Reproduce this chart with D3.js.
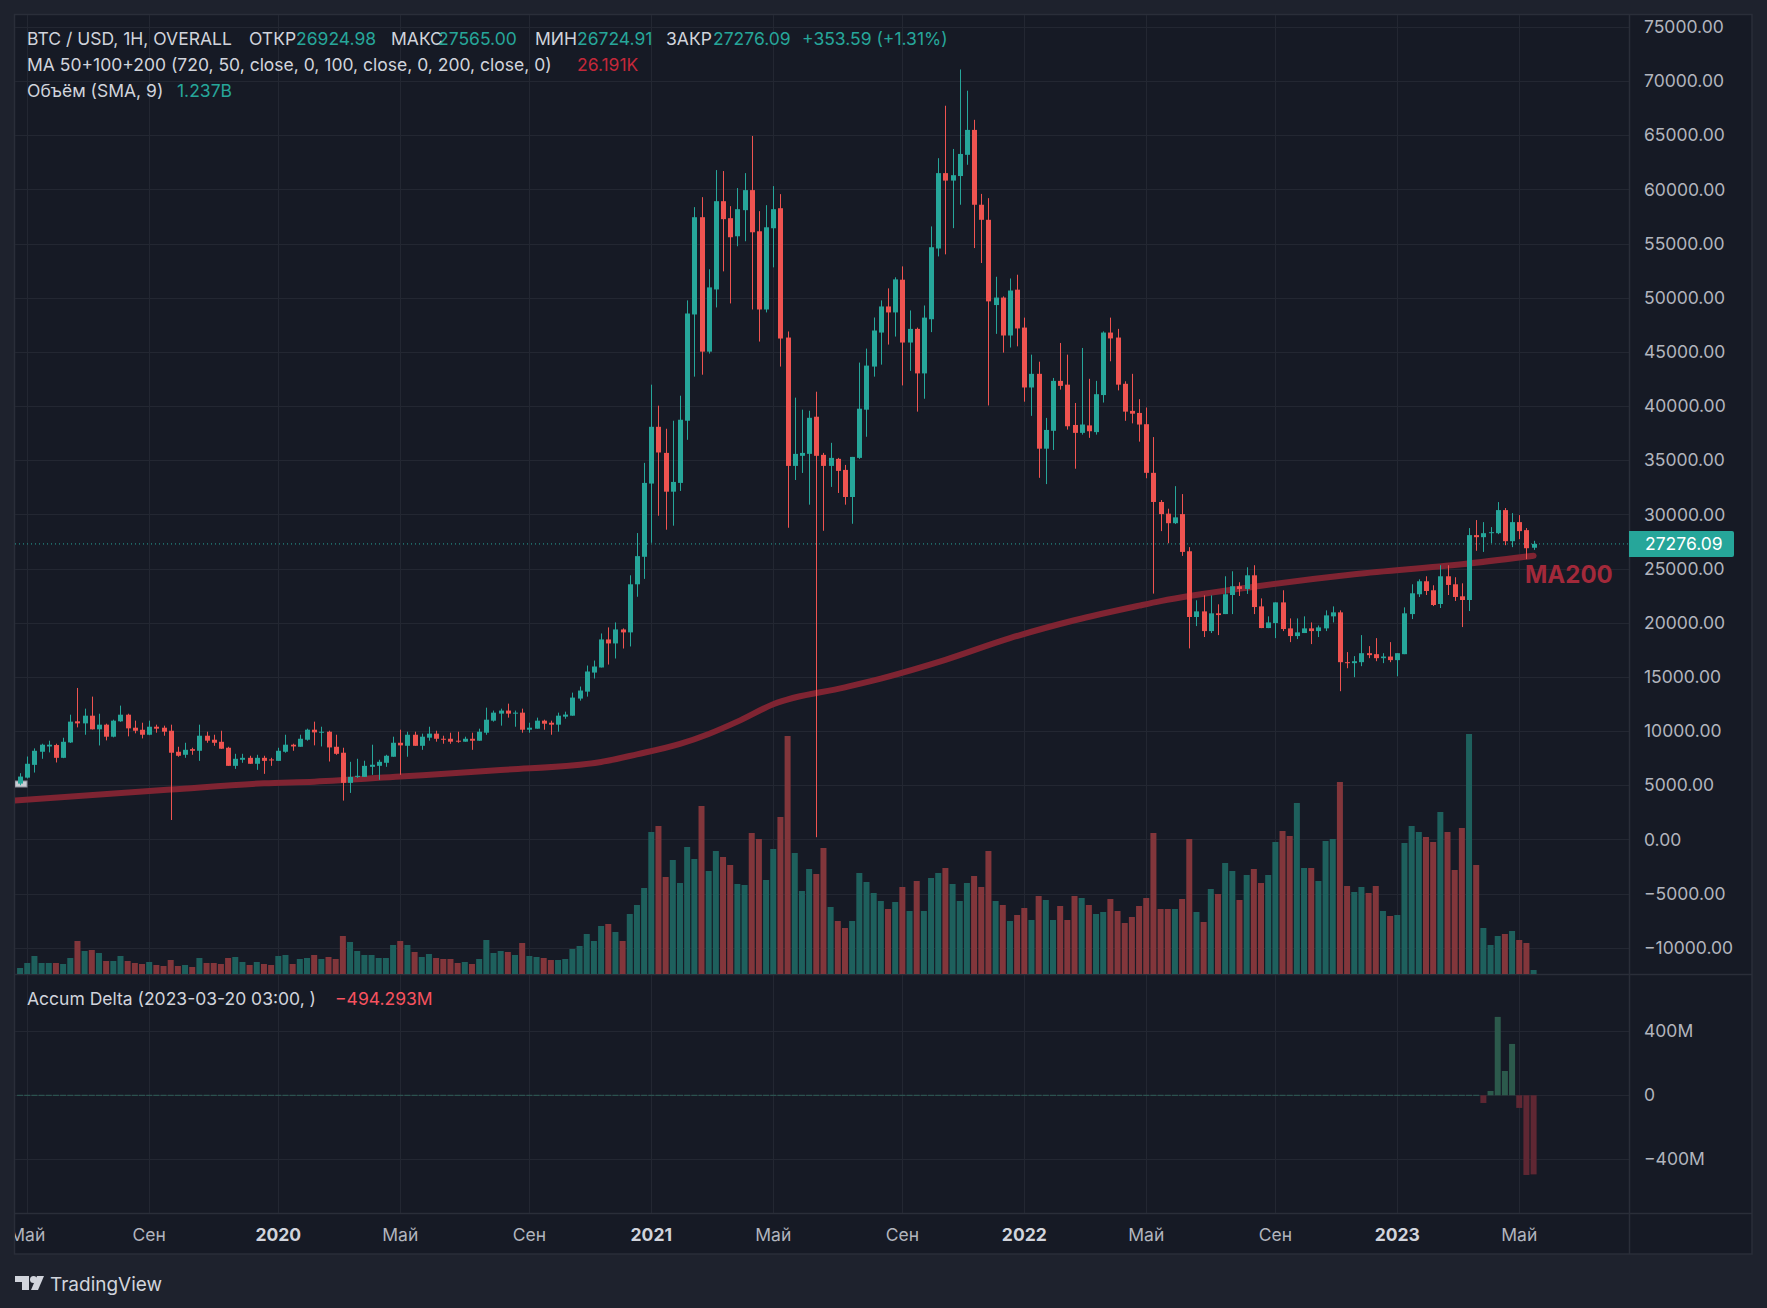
<!DOCTYPE html>
<html>
<head>
<meta charset="utf-8">
<script src="https://cdn.jsdelivr.net/npm/d3@7"></script>
<style>
  body { margin: 0; background: #1e222d; }
  svg { display: block; font-family: Inter, "Noto Sans", sans-serif; }
</style>
</head>
<body>
<svg id="chart" width="1767" height="1308"></svg>
<script>
// weekly bars, first bar on this Monday
const START = "2019-04-29";

const opens = [
  5150,5700,6880,8090,8580,8710,7530,8950,10900,10710,11420,10160,10590,9480,10900,11510,10310,10120,9660,10400,
  10310,10030,8090,7810,8330,8180,9570,9200,9010,8460,6790,7350,7530,6980,7530,7380,
  7250,8090,8740,8550,9200,10125,9880,9940,8550,8000,5220,5770,5770,6700,6790,7070,7630,8920,8640,9660,
  8640,9390,9760,9290,9290,9110,9020,9290,9110,9850,10960,11610,11890,11610,11700,10125,10220,10960,10770,10590,
  11330,11420,13000,13640,15400,15870,18460,18090,19380,19110,23550,26090,
  32850,38090,35680,32100,32910,38650,48460,57440,45030,50770,58920,57350,55680,58090,59940,56140,48920,56420,58270,46330,
  34480,35410,35590,39020,35500,34480,35130,34110,31610,35220,39670,43650,46790,49200,48650,51670,45870,47130,43020,48020,
  54550,61510,60820,61240,63200,65500,58590,57200,49330,50020,46520,50750,
  47250,41720,42980,36070,37720,42330,41980,38260,37530,38220,37600,41020,46790,46330,42060,39560,39370,38330,33840,31150,
  30070,29190,30030,26600,20530,21050,19230,20870,20800,22560,23370,23120,24380,21510,19510,19970,21880,19480,18770,19050,
  19480,19230,19480,20590,20960,16360,16270,16360,17190,17100,16730,16880,
  16550,17100,20800,22630,23830,23000,21730,24290,23550,22440,22100,28090,27900,28270,28270,30400,27530,29290,28550,26924.98
];
const highs = [
  6110,7650,8400,8830,9110,8830,9380,11510,13980,12070,13180,11600,10680,11050,12350,11600,10960,10770,10960,10590,
  10500,10590,8550,8920,8460,10590,9940,9660,10030,8550,7900,7900,7720,7810,7720,7530,
  8460,9660,8830,9660,10220,10870,10400,10030,9660,8460,7160,7440,7260,8740,7350,7810,9480,10125,9940,9940,
  9760,10400,10030,9570,9850,9940,9480,9850,10220,12160,11890,12070,12530,11890,12070,10770,11240,11050,10960,11700,
  11790,13550,14110,16050,16510,19010,19570,20030,19480,24380,28280,34760,
  41980,40040,37910,38650,40960,49760,58370,59290,52630,61790,61700,58460,60130,61510,64940,58000,58550,60310,59570,46890,
  40780,39670,39570,41330,35680,36610,35220,34570,35310,44020,45310,48180,49760,50870,51890,52900,48830,47250,49290,56590,
  62890,67730,63740,71080,69120,66430,59590,59200,51940,50130,51780,52130,
  48170,44750,44100,38910,42600,45830,44750,40290,45370,42520,42330,46900,48170,47130,42290,42980,40640,39870,37140,31330,
  30530,32610,31880,26980,22070,22530,22530,21700,24290,24750,23740,25120,25310,22250,20590,21880,23000,20400,20400,20590,
  20030,19750,21140,21510,21140,17290,16920,18860,17840,18580,17190,18210,
  17190,21420,23550,24010,24290,23460,25310,25310,24200,23640,28740,29480,29290,28830,31140,30590,30120,29940,28740,27565.00
];
const lows = [
  5000,5620,6170,7440,8030,7100,7500,8900,10340,9660,10150,8670,9140,9420,10850,9510,9790,9320,9620,9850,
  9570,1790,7630,7530,7810,7250,8920,8640,8360,6790,6510,7070,6970,6420,6050,6790,
  7250,8000,8180,8550,9110,8680,8580,7190,7810,3580,4290,5680,5770,5960,5500,6700,7630,5960,7630,8640,
  8270,9110,9020,8830,8830,8920,9020,8270,9110,9660,10870,10500,11240,10400,9850,9850,10220,10125,9660,9940,
  11140,11420,12810,13180,14850,15870,16140,16700,17620,17810,22400,24050,
  27380,29880,28590,28960,32170,36890,42720,42900,44850,49110,52440,49480,54760,55220,48920,45960,48650,52810,43650,28770,
  33180,33830,30900,200,28490,32540,31980,30900,29140,35130,37170,42720,43830,45680,46420,41910,43250,39490,40680,46830,
  53820,54010,56430,58590,62280,54590,53210,40060,46670,44940,45410,45520,
  40410,39100,33380,32800,35950,41520,37830,34220,37370,37070,37370,40330,44140,41450,38640,38410,36720,33340,22690,28460,
  27340,29110,26170,17630,19690,18680,19050,18860,20800,20800,22470,22660,20800,19500,19500,18580,19230,18210,18490,19050,
  18030,18680,19230,20030,13680,15800,14970,15990,16730,16450,16270,16360,
  15060,17100,20340,22380,22560,21540,21360,22560,22010,19600,21080,26640,26540,27350,28180,27160,26980,27720,25870,26724.91
];
const closes = [
  5800,6980,8180,8740,8740,7530,9010,10870,10710,11420,10160,10590,9480,10960,11510,10250,10030,9660,10400,10220,
  9940,8000,7720,8270,8180,9570,9110,8920,8370,6790,7440,7530,6980,7530,7250,7320,
  8180,8740,8580,9290,10125,9880,9940,8490,7900,5220,5770,5870,6790,6890,7160,7720,8920,8680,9660,8640,
  9480,9760,9290,9200,9020,9020,9290,9110,9940,11050,11700,11890,11610,11700,10125,10310,10960,10680,10590,11420,
  11520,13090,13740,15500,15960,18460,18090,19380,19110,23550,26150,32910,
  38090,35720,32100,33000,38740,48550,57440,45030,50960,58920,57260,55590,58180,59940,56050,48920,56510,58180,46240,34480,
  35590,35680,38920,35410,34480,35220,34020,31610,35310,39760,43740,46980,49200,48650,51700,45870,47130,43020,48170,54670,
  61510,60820,61320,63280,65500,58590,57200,49670,50020,46520,50670,47170,
  41720,42980,36070,37800,42330,41870,38140,37530,38300,37680,41100,46790,46250,41980,39490,39300,38300,33840,31150,30030,
  29190,29730,26540,20530,21050,19230,20870,20710,22630,23370,23120,24380,21450,19510,20030,21880,19420,18770,19110,19480,
  19230,19570,20680,20960,16360,16270,16450,17190,17010,16730,16880,16550,
  17190,20870,22720,23830,22930,21640,24290,23490,22380,22100,28090,27900,28270,28360,30400,27530,29290,28460,26880,27276.09
];
// volume, billions
const volumes = [
  0.18,0.33,0.54,0.33,0.33,0.33,0.30,0.48,0.99,0.69,0.72,0.63,0.39,0.39,0.54,0.39,0.33,0.30,0.36,0.27,
  0.24,0.42,0.24,0.27,0.21,0.48,0.33,0.33,0.30,0.48,0.51,0.36,0.27,0.36,0.30,0.27,0.54,0.57,0.30,0.45,
  0.48,0.57,0.45,0.51,0.45,1.14,0.96,0.69,0.57,0.57,0.48,0.48,0.87,0.99,0.87,0.66,0.51,0.60,0.48,0.45,
  0.45,0.33,0.36,0.30,0.45,1.02,0.63,0.69,0.66,0.57,0.93,0.54,0.51,0.48,0.42,0.42,0.45,0.75,0.84,1.20,
  0.99,1.44,1.50,1.26,0.99,1.80,2.07,2.58,4.26,4.44,2.91,3.42,2.73,3.81,3.45,5.04,3.09,3.69,3.51,3.27,
  2.70,2.67,4.23,4.05,2.82,3.75,4.71,7.14,
  3.63,2.49,3.15,3.00,3.78,2.01,1.59,1.38,1.59,3.03,2.76,2.43,2.19,1.95,2.16,2.61,1.89,2.79,1.89,2.88,
  3.03,3.18,2.70,2.19,2.73,2.94,2.61,3.69,2.19,2.07,1.59,1.77,1.98,1.62,2.34,2.22,1.62,2.04,1.62,2.34,
  2.28,2.07,1.80,1.86,2.25,1.89,1.53,1.71,2.04,2.28,4.23,1.95,1.95,1.95,2.25,4.05,1.86,1.56,2.55,2.40,
  3.33,3.09,2.22,2.97,3.15,2.73,2.97,3.96,4.29,4.14,5.13,3.18,3.18,2.79,3.99,4.05,5.76,2.64,2.46,2.61,
  2.43,2.64,1.89,1.74,1.77,3.93,4.44,4.26,4.11,3.96,4.86,4.26,3.12,4.38,7.20,3.27,1.38,0.87,1.14,1.20,
  1.29,1.02,0.93,0.12
];

// 200-week moving average
const maDates = ["2019-04-22","2019-09-23","2019-12-23","2020-02-10","2020-05-04","2020-08-10","2020-11-16","2020-12-21",
  "2021-02-01","2021-03-01","2021-03-29","2021-05-03","2021-07-12","2021-08-16","2021-10-18","2021-12-20",
  "2022-02-21","2022-04-25","2022-05-16","2022-08-15","2022-11-21","2023-03-06","2023-05-15"];
const maValues = [3575,4600,5180,5330,5805,6400,7150,7850,8810,9730,10870,12480,14040,14850,16580,18580,
  20230,21580,22000,23330,24480,25400,26191];

// accum delta, millions, from this week on (zero before)
const deltaStart = "2023-03-27";
const deltaValues = [-48, 27, 490, 152, 321, -79, -498, -494.293];

const priceTicks = [-10000,-5000,0,5000,10000,15000,20000,25000,30000,35000,40000,45000,50000,55000,60000,65000,70000,75000];
const deltaTicks = [400, 0, -400];
const deltaTickLabels = ["400M", "0", "\u2212400M"];
const timeTickDates = ["2019-05-06","2019-09-02","2020-01-06","2020-05-04","2020-09-07","2021-01-04","2021-05-03",
  "2021-09-06","2022-01-03","2022-05-02","2022-09-05","2023-01-02","2023-05-01"];
const timeTickLabels = ["Май","Сен","2020","Май","Сен","2021","Май","Сен","2022","Май","Сен","2023","Май"];

const UP = "#26a69a", DOWN = "#ef5350";
const TEXT = "#d1d4dc", AXIS_TEXT = "#b2b5be", GRID = "#232732", BORDER = "#2a2e39";
const FONT = 17.5;

var parse = d3.utcParse("%Y-%m-%d");
var first = parse(START);
var dates = opens.map((d, i) => d3.utcMonday.offset(first, i));

var svg = d3.select("#chart");

// layout
var plotLeft = 15, plotRight = 1629, frameRight = 1752,
    plotTop = 15, mainBottom = 974, deltaBottom = 1213, frameBottom = 1254;

svg.append("rect").attr("width", 1767).attr("height", 1308).attr("fill", "#1e222d");
svg.append("rect")
  .attr("x", 14.5).attr("y", 14.5)
  .attr("width", frameRight - 14.5).attr("height", frameBottom - 14.5)
  .attr("fill", "#161a25").attr("stroke", BORDER).attr("stroke-width", 1.5);

var defs = svg.append("defs");
defs.append("clipPath").attr("id", "clipMain")
  .append("rect").attr("x", plotLeft).attr("y", plotTop).attr("width", plotRight - plotLeft).attr("height", mainBottom - plotTop);
defs.append("clipPath").attr("id", "clipDelta")
  .append("rect").attr("x", plotLeft).attr("y", mainBottom + 1).attr("width", plotRight - plotLeft).attr("height", deltaBottom - mainBottom - 1);
defs.append("clipPath").attr("id", "clipTime")
  .append("rect").attr("x", plotLeft).attr("y", deltaBottom).attr("width", plotRight - plotLeft).attr("height", frameBottom - deltaBottom);

// scales
var x = d3.scaleUtc()
  .domain([parse("2020-01-06"), parse("2023-01-02")])
  .range([278.3, 1397.3]);
var y = d3.scaleLinear().domain([-10000, 75000]).range([947.7, 27]);
var yVol = d3.scaleLinear().domain([0, d3.max(volumes)]).range([mainBottom, mainBottom - 240]);
var yDelta = d3.scaleLinear().domain([-400, 400]).range([1159.3, 1031.3]);

// grid
var grid = svg.append("g");
grid.selectAll(".hg").data(priceTicks).enter().append("line")
  .attr("x1", plotLeft).attr("x2", plotRight)
  .attr("y1", d => Math.round(y(d)) + 0.5).attr("y2", d => Math.round(y(d)) + 0.5)
  .attr("stroke", GRID);
grid.selectAll(".dg").data(deltaTicks).enter().append("line")
  .attr("x1", plotLeft).attr("x2", plotRight)
  .attr("y1", d => Math.round(yDelta(d)) + 0.5).attr("y2", d => Math.round(yDelta(d)) + 0.5)
  .attr("stroke", GRID);
grid.selectAll(".vg").data(timeTickDates).enter().append("line")
  .attr("x1", d => Math.round(x(parse(d))) + 0.5).attr("x2", d => Math.round(x(parse(d))) + 0.5)
  .attr("y1", plotTop).attr("y2", deltaBottom)
  .attr("stroke", GRID);

// pane separators
svg.append("line").attr("x1", plotLeft).attr("x2", frameRight).attr("y1", mainBottom + 0.5).attr("y2", mainBottom + 0.5).attr("stroke", BORDER).attr("stroke-width", 1.5);
svg.append("line").attr("x1", plotLeft).attr("x2", frameRight).attr("y1", deltaBottom + 0.5).attr("y2", deltaBottom + 0.5).attr("stroke", BORDER).attr("stroke-width", 1.5);
svg.append("line").attr("x1", plotRight + 0.5).attr("x2", plotRight + 0.5).attr("y1", plotTop).attr("y2", frameBottom).attr("stroke", BORDER).attr("stroke-width", 1.5);

var main = svg.append("g").attr("clip-path", "url(#clipMain)");

// volume
main.append("g").selectAll("rect").data(dates).enter().append("rect")
  .attr("x", d => x(d) - 3)
  .attr("width", 6)
  .attr("y", (d, i) => yVol(volumes[i]))
  .attr("height", (d, i) => mainBottom - yVol(volumes[i]))
  .attr("fill", (d, i) => closes[i] >= opens[i] ? "#1e605d" : "#82363b");

// small marker at the left edge
main.append("rect").attr("x", 15).attr("y", 781).attr("width", 12).attr("height", 6)
  .attr("fill", "#c9ccd3").attr("stroke", "#8a8e99").attr("stroke-width", 1);

// MA200
var maLine = d3.line()
  .x(d => x(parse(d[0])))
  .y(d => y(d[1]))
  .curve(d3.curveMonotoneX);
main.append("path")
  .datum(maDates.map((d, i) => [d, maValues[i]]))
  .attr("d", maLine)
  .attr("fill", "none")
  .attr("stroke", "#7f2432")
  .attr("stroke-width", 6)
  .attr("stroke-linecap", "round");

// last price line
var last = closes[closes.length - 1];
main.append("line")
  .attr("x1", plotLeft).attr("x2", plotRight)
  .attr("y1", y(last)).attr("y2", y(last))
  .attr("stroke", UP).attr("stroke-width", 1).attr("stroke-dasharray", "1,3");

// candles
var candle = main.append("g").selectAll("g").data(dates).enter().append("g");
candle.append("line")
  .attr("x1", d => Math.round(x(d)) + 0.5).attr("x2", d => Math.round(x(d)) + 0.5)
  .attr("y1", (d, i) => y(highs[i])).attr("y2", (d, i) => y(lows[i]))
  .attr("stroke", (d, i) => closes[i] >= opens[i] ? UP : DOWN)
  .attr("stroke-width", 1);
candle.append("rect")
  .attr("x", d => Math.round(x(d)) + 0.5 - 2.5)
  .attr("width", 5)
  .attr("y", (d, i) => y(Math.max(opens[i], closes[i])))
  .attr("height", (d, i) => Math.max(1, Math.abs(y(opens[i]) - y(closes[i]))))
  .attr("fill", (d, i) => closes[i] >= opens[i] ? UP : DOWN);

main.append("text")
  .attr("x", 1525).attr("y", 583)
  .attr("fill", "#a2293a")
  .attr("font-size", 24).attr("font-weight", 700)
  .text("MA200");

// accum delta pane
var deltaFirst = parse(deltaStart);
var delta = svg.append("g").attr("clip-path", "url(#clipDelta)");
delta.selectAll("rect").data(dates).enter().append("rect")
  .attr("x", d => x(d) - 3)
  .attr("width", 6)
  .each(function(d) {
    var k = Math.round((d - deltaFirst) / (7 * 864e5));
    var v = k >= 0 ? deltaValues[k] : 0;
    var sel = d3.select(this);
    if (k < 0) {
      sel.attr("y", yDelta(0) - 0.5).attr("height", 1).attr("fill", "#2f5e58");
    } else {
      sel.attr("y", Math.min(yDelta(v), yDelta(0)))
        .attr("height", Math.abs(yDelta(v) - yDelta(0)))
        .attr("fill", v >= 0 ? "#2c5a4c" : "#5f2733");
    }
  });

// price axis labels
svg.append("g").selectAll("text").data(priceTicks).enter().append("text")
  .attr("x", 1644).attr("y", d => y(d))
  .attr("dy", "0.35em")
  .attr("fill", AXIS_TEXT).attr("font-size", FONT)
  .text(d => (d < 0 ? "\u2212" : "") + Math.abs(d).toFixed(2));

svg.append("g").selectAll("text").data(deltaTicks).enter().append("text")
  .attr("x", 1644).attr("y", d => yDelta(d))
  .attr("dy", "0.35em")
  .attr("fill", AXIS_TEXT).attr("font-size", FONT)
  .text((d, i) => deltaTickLabels[i]);

// last price tag
var tag = svg.append("g");
tag.append("path")
  .attr("d", "M" + plotRight + "," + (y(last) - 13) + "h103a2,2 0 0 1 2,2v22a2,2 0 0 1 -2,2h-103z")
  .attr("fill", UP);
tag.append("text")
  .attr("x", 1645).attr("y", y(last)).attr("dy", "0.35em")
  .attr("fill", "#ffffff").attr("font-size", FONT)
  .text(last.toFixed(2));

// time axis
svg.append("g").attr("clip-path", "url(#clipTime)")
  .selectAll("text").data(timeTickDates).enter().append("text")
  .attr("x", d => x(parse(d))).attr("y", 1241)
  .attr("text-anchor", "middle")
  .attr("font-size", FONT)
  .attr("font-weight", (d, i) => /^\d+$/.test(timeTickLabels[i]) ? 700 : 400)
  .attr("fill", (d, i) => /^\d+$/.test(timeTickLabels[i]) ? TEXT : AXIS_TEXT)
  .text((d, i) => timeTickLabels[i]);

// legends
function legendLine(yPos, parts) {
  var t = svg.append("text").attr("y", yPos).attr("font-size", FONT);
  parts.forEach(p => {
    t.append("tspan").attr("x", p[0]).attr("fill", p[2] || TEXT).text(p[1]);
  });
}
legendLine(45, [
  [27, "BTC / USD, 1H, OVERALL"],
  [249, "ОТКР"], [296, "26924.98", UP],
  [391, "МАКС"], [438, "27565.00", UP],
  [535, "МИН"], [577, "26724.91", UP],
  [666, "ЗАКР"], [713, "27276.09", UP],
  [802, "+353.59 (+1.31%)", UP]
]);
legendLine(71, [
  [27, "MA 50+100+200 (720, 50, close, 0, 100, close, 0, 200, close, 0)"],
  [577, "26.191K", "#c4283a"]
]);
legendLine(97, [
  [27, "Объём (SMA, 9)"],
  [177, "1.237B", UP]
]);
legendLine(1005, [
  [27, "Accum Delta (2023-03-20 03:00, )"],
  [335, "\u2212494.293M", "#f7525f"]
]);

// logo
var logo = svg.append("g").attr("fill", TEXT);
logo.append("path").attr("d", "M15,1276h14v14h-7v-8h-7z");
logo.append("circle").attr("cx", 33.5).attr("cy", 1279.5).attr("r", 3.5);
logo.append("path").attr("d", "M37,1276h7l-6,14h-7z");
logo.append("text").attr("x", 50).attr("y", 1291).attr("font-size", 19).attr("fill", TEXT).text("TradingView");
</script>
</body>
</html>
